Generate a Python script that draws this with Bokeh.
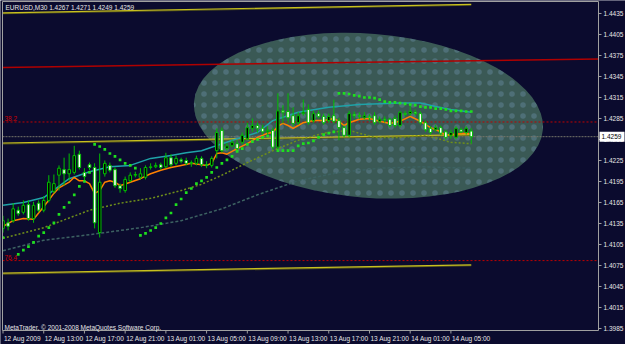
from bokeh.plotting import figure
from bokeh.models import ColumnDataSource, Range1d
from bokeh.embed import file_html
from bokeh.resources import INLINE
from bokeh.core.properties import value

# ---------------- data (EURUSD M30, bar index 0 = 12 Aug 2009 09:00) ----------------
open_ = [1.4128, 1.4136, 1.4139, 1.4154, 1.4151, 1.4162, 1.4142, 1.4164, 1.4154, 1.4168,
         1.4181, 1.4204, 1.4212, 1.4206, 1.4208, 1.4234, 1.4208, 1.4219, 1.4215, 1.4122,
         1.4206, 1.4218, 1.4212, 1.4189, 1.4182, 1.4196, 1.4204, 1.4201, 1.4201, 1.4215,
         1.4216, 1.4219, 1.4216, 1.4229, 1.4221, 1.4226, 1.4225, 1.4221, 1.4221, 1.4228,
         1.4219, 1.4218, 1.4239, 1.4268, 1.4242, 1.4246, 1.4249, 1.4251, 1.4256, 1.4271,
         1.4275, 1.4271, 1.4266, 1.4268, 1.4244, 1.4296, 1.4295, 1.4289, 1.4279, 1.4292,
         1.4298, 1.4282, 1.4292, 1.4288, 1.4282, 1.4289, 1.4282, 1.4272, 1.4261, 1.4291,
         1.4289, 1.4286, 1.4288, 1.4289, 1.4281, 1.4284, 1.4284, 1.4285, 1.4275, 1.4292,
         1.4292, 1.4294, 1.4292, 1.4279, 1.4271, 1.4269, 1.4272, 1.4266, 1.4261, 1.4258,
         1.4269, 1.4265, 1.4267]
high = [1.4146, 1.4142, 1.4164, 1.4159, 1.4168, 1.4168, 1.4166, 1.4168, 1.4174, 1.4204,
        1.4205, 1.4218, 1.4229, 1.4235, 1.4246, 1.4239, 1.4214, 1.4222, 1.4221, 1.4235,
        1.4225, 1.4222, 1.4215, 1.4192, 1.4202, 1.4208, 1.4209, 1.4214, 1.4218, 1.4221,
        1.4222, 1.4222, 1.4236, 1.4234, 1.4232, 1.4229, 1.4229, 1.4225, 1.4232, 1.4231,
        1.4224, 1.4231, 1.4271, 1.4272, 1.4250, 1.4254, 1.4254, 1.4265, 1.4279, 1.4285,
        1.4279, 1.4276, 1.4274, 1.4272, 1.4321, 1.4304, 1.4321, 1.4301, 1.4294, 1.4312,
        1.4305, 1.4296, 1.4296, 1.4292, 1.4292, 1.4312, 1.4286, 1.4275, 1.4296, 1.4295,
        1.4294, 1.4294, 1.4291, 1.4294, 1.4288, 1.4288, 1.4286, 1.4289, 1.4296, 1.4296,
        1.4306, 1.4298, 1.4295, 1.4282, 1.4274, 1.4276, 1.4275, 1.4269, 1.4269, 1.4274,
        1.4272, 1.4274, 1.4271]
low = [1.4122, 1.4125, 1.4136, 1.4146, 1.4148, 1.4139, 1.4136, 1.4151, 1.4151, 1.4165,
       1.4178, 1.4182, 1.4189, 1.4196, 1.4205, 1.4212, 1.4194, 1.4211, 1.4128, 1.4115,
       1.4202, 1.4208, 1.4186, 1.4179, 1.4179, 1.4194, 1.4201, 1.4198, 1.4198, 1.4212,
       1.4214, 1.4212, 1.4214, 1.4216, 1.4218, 1.4221, 1.4218, 1.4216, 1.4218, 1.4216,
       1.4214, 1.4215, 1.4228, 1.4236, 1.4239, 1.4244, 1.4239, 1.4248, 1.4254, 1.4266,
       1.4265, 1.4262, 1.4262, 1.4241, 1.4239, 1.4278, 1.4278, 1.4274, 1.4276, 1.4289,
       1.4276, 1.4279, 1.4285, 1.4276, 1.4279, 1.4278, 1.4254, 1.4258, 1.4258, 1.4285,
       1.4284, 1.4284, 1.4282, 1.4276, 1.4278, 1.4279, 1.4272, 1.4272, 1.4272, 1.4288,
       1.4289, 1.4289, 1.4276, 1.4266, 1.4262, 1.4266, 1.4261, 1.4255, 1.4256, 1.4255,
       1.4264, 1.4262, 1.4249]
close = [1.4139, 1.4131, 1.4156, 1.4149, 1.4161, 1.4142, 1.4161, 1.4154, 1.4168, 1.4194,
         1.4192, 1.4214, 1.4206, 1.4212, 1.4232, 1.4215, 1.4202, 1.4215, 1.4136, 1.4194,
         1.4221, 1.4211, 1.4189, 1.4185, 1.4198, 1.4204, 1.4205, 1.4206, 1.4215, 1.4216,
         1.4218, 1.4215, 1.4229, 1.4219, 1.4228, 1.4224, 1.4221, 1.4222, 1.4228, 1.4219,
         1.4218, 1.4228, 1.4265, 1.4239, 1.4246, 1.4251, 1.4242, 1.4261, 1.4272, 1.4275,
         1.4271, 1.4266, 1.4268, 1.4244, 1.4296, 1.4294, 1.4286, 1.4278, 1.4289, 1.4294,
         1.4279, 1.4292, 1.4288, 1.4279, 1.4288, 1.4281, 1.4272, 1.4261, 1.4292, 1.4289,
         1.4288, 1.4289, 1.4286, 1.4279, 1.4284, 1.4283, 1.4275, 1.4275, 1.4294, 1.4291,
         1.4295, 1.4292, 1.4279, 1.4269, 1.4265, 1.4272, 1.4264, 1.4258, 1.4265, 1.4271,
         1.4266, 1.4271, 1.4259]

# Parabolic SAR dots (bar index, price)
sar_bar = [0, 3, 4, 5, 6, 7, 8, 9, 10, 11, 12, 13, 14, 15, 16, 17,
           18, 19, 20, 21, 22, 23, 24, 25, 26,
           27, 28, 29, 30, 31, 32, 33, 34, 35, 36, 37, 38, 39, 40, 41, 42, 43, 44, 45, 46, 47, 48, 49, 50, 51, 52,
           54, 55, 56, 57, 58, 59, 60, 61, 62, 63, 64, 65,
           66, 67, 68, 69, 70, 71, 72, 73, 74, 75, 76, 77, 78, 79, 80, 81, 82, 83, 84, 85, 86, 87, 88, 89, 90, 91, 92]
sar_val = [1.4115, 1.4091, 1.4097, 1.4102, 1.4108, 1.4117, 1.4122, 1.4129, 1.4136, 1.4148, 1.4158, 1.4165, 1.4176, 1.4188, 1.4195, 1.4208,
           1.4248, 1.4245, 1.4241, 1.4235, 1.4231, 1.4226, 1.4221, 1.4218, 1.4214,
           1.4118, 1.4121, 1.4125, 1.4129, 1.4135, 1.4143, 1.4150, 1.4162, 1.4170, 1.4179, 1.4185, 1.4192, 1.4196, 1.4201, 1.4208, 1.4215, 1.4221, 1.4226, 1.4231, 1.4238, 1.4242, 1.4248, 1.4252, 1.4255, 1.4258, 1.4260,
           1.4239, 1.4239, 1.4239, 1.4239, 1.4246, 1.4249, 1.4250, 1.4253, 1.4258, 1.4262, 1.4264, 1.4266,
           1.4321, 1.4321, 1.4320, 1.4318, 1.4317, 1.4315, 1.4315, 1.4314, 1.4312, 1.4309, 1.4308, 1.4308, 1.4307, 1.4306, 1.4305, 1.4304, 1.4302, 1.4301, 1.4301, 1.4299, 1.4299, 1.4298, 1.4296, 1.4296, 1.4296, 1.4295, 1.4295]

# fast moving average (orange)
ma_fast_bar = [0, 2, 4, 6, 8, 10, 11, 13, 14, 15, 16, 17, 18, 19, 20, 21, 22, 23, 25, 27, 29, 31, 33, 35, 37,
               40, 41, 42, 43, 44, 46, 48, 50, 52, 53, 54, 55, 56, 57, 58, 59, 61, 63, 65, 66, 67, 68, 70,
               72, 74, 76, 78, 80, 82, 84, 86, 87, 89, 91, 92]
ma_fast_val = [1.4131, 1.4139, 1.4142, 1.4141, 1.4159, 1.4178, 1.4186, 1.4194, 1.4201, 1.4196, 1.4196, 1.4192,
               1.4178, 1.4182, 1.4194, 1.4196, 1.4194, 1.4189, 1.4194, 1.4199, 1.4206, 1.4211, 1.4215, 1.4218,
               1.4221, 1.4218, 1.4221, 1.4235, 1.4236, 1.4234, 1.4242, 1.4249, 1.4258, 1.4264, 1.4265, 1.4274,
               1.4278, 1.4275, 1.4271, 1.4275, 1.4279, 1.4282, 1.4282, 1.4285, 1.4281, 1.4275, 1.4279, 1.4284,
               1.4285, 1.4281, 1.4278, 1.4281, 1.4288, 1.4281, 1.4272, 1.4266, 1.4261, 1.4263, 1.4264, 1.4263]

# slow moving average (teal)
ma_slow_bar = [0, 4, 8, 13, 17, 21, 25, 29, 33, 36, 39, 41, 46, 50, 53, 58, 64, 70, 78, 82, 85, 88, 92]
ma_slow_val = [1.4161, 1.4165, 1.4172, 1.4199, 1.4209, 1.4216, 1.4218, 1.4228, 1.4232, 1.4236, 1.4239, 1.4244,
               1.4256, 1.4265, 1.4282, 1.4294, 1.4301, 1.4305, 1.4307, 1.4307, 1.4302, 1.4298, 1.4294]

# lower envelope lines
env1_bar = [0, 8, 17, 23, 29, 35, 39, 43, 48, 53, 58, 63, 68, 73, 78, 83, 88, 92]
env1_val = [1.4114, 1.4129, 1.4154, 1.4164, 1.4171, 1.4182, 1.4191, 1.4204, 1.4222, 1.4239, 1.4254, 1.4264,
            1.4268, 1.4258, 1.4258, 1.4261, 1.4251, 1.4249]
env2_bar = [0, 8, 17, 27, 35, 43, 50, 58, 66, 74, 82, 92]
env2_val = [1.4096, 1.4111, 1.4119, 1.4129, 1.4139, 1.4156, 1.4176, 1.4196, 1.4208, 1.4214, 1.4216, 1.4214]

# regression channel and trend line (bar, price end points)
chan_bars = [0, 92]
chan_upper = [1.4436, 1.4448]
chan_mid = [1.4250, 1.4262]
chan_lower = [1.4064, 1.4076]
trend_red_bars = [0, 117]
trend_red = [1.4358, 1.4370]
fib_levels = [1.4280, 1.4082]
fib_labels = ["38.2", "76.4"]
bid = 1.4259
bid_label = "1.4259"

ellipse_center = (71.8, 1.4289)

x_tick_bars = [0, 8, 16, 24, 32, 40, 48, 56, 64, 72, 80, 88]
x_tick_labels = ["12 Aug 2009", "12 Aug 13:00", "12 Aug 17:00", "12 Aug 21:00", "13 Aug 01:00",
                 "13 Aug 05:00", "13 Aug 09:00", "13 Aug 13:00", "13 Aug 17:00", "13 Aug 21:00",
                 "14 Aug 01:00", "14 Aug 05:00"]
y_ticks = [1.3985, 1.4015, 1.4045, 1.4075, 1.4105, 1.4135, 1.4165, 1.4195, 1.4225,
           1.4255, 1.4285, 1.4315, 1.4345, 1.4375, 1.4405, 1.4435]

# ---------------- layout: the whole canvas is the data frame ----------------
W, H = 625, 344
PX_PER_BAR = 5.09
PX_PER_UNIT = 7000.0
BAR0_PX = 2.5
PRICE_AT_TOP = 1.445357


def bx(px):   # screen x -> bar coordinate
    return (px - BAR0_PX) / PX_PER_BAR


def py(pyy):  # screen y -> price coordinate
    return PRICE_AT_TOP - pyy / PX_PER_UNIT


BG = "#0b0b2e"
FONT = value("Liberation Sans")
FS = "6.5px"
TXT = "#e6e6e6"
GREEN = "#00c000"
FRAME = "#a0a0a0"

p = figure(width=W, height=H, output_backend="svg", toolbar_location=None,
           x_range=Range1d(bx(0), bx(W)), y_range=Range1d(py(H), py(0)),
           x_axis_location=None, y_axis_location=None,
           min_border=0, background_fill_color=BG, border_fill_color=BG)
p.outline_line_color = None
p.xgrid.visible = False
p.ygrid.visible = False

L, R, T, B = bx(2), bx(598), py(1), py(330)

# ellipse
p.ellipse(x=[ellipse_center[0]], y=[ellipse_center[1]], width=350, height=164,
          width_units="screen", height_units="screen", angle=-0.08,
          fill_color="#3a5955", line_color=None,
          hatch_pattern="dot", hatch_color="#7fa3c8", hatch_scale=11, hatch_weight=0.4, hatch_alpha=0.3)

# fib + bid lines
for lv in fib_levels:
    p.line([L, R], [lv, lv], line_color="#c00000", line_dash="2 2", line_width=1)
p.line([L, R], [bid, bid], line_color="#77776a", line_dash="2 1", line_width=1)
p.text(x=[bx(4)] * 2, y=fib_levels, text=fib_labels, text_font=FONT, text_font_size=FS,
       text_color="#d00000", text_baseline="bottom", y_offset=-1)

# red trendline
p.line(trend_red_bars, trend_red, line_color="#b00000", line_width=1.5)
# regression channel
for arr in (chan_upper, chan_mid, chan_lower):
    p.line(chan_bars, [v - 0.00012 for v in arr], line_color="#55551a", line_width=1.2)
    p.line(chan_bars, arr, line_color="#c8c020", line_width=1.2)

# envelopes
p.line(env2_bar, env2_val, line_color="#3d6262", line_width=1.5, line_dash="3 2")
p.line(env1_bar, env1_val, line_color="#6f8f1a", line_width=1.5, line_dash="2 2")

# moving averages
p.line(ma_slow_bar, ma_slow_val, line_color="#1fa3a8", line_width=1.5)
p.line(ma_fast_bar, ma_fast_val, line_color="#ff8000", line_width=1.5)

# candles
bars = list(range(len(close)))
src = ColumnDataSource(dict(
    x=bars, high=high, low=low,
    top=[max(o, c) for o, c in zip(open_, close)],
    bottom=[min(o, c) for o, c in zip(open_, close)],
    fill=["#ffffff" if c < o else "#000000" for o, c in zip(open_, close)],
))
p.segment(x0="x", y0="low", x1="x", y1="high", source=src, line_color=GREEN, line_width=1)
p.vbar(x="x", top="top", bottom="bottom", width=0.5, source=src,
       fill_color="fill", line_color=GREEN, line_width=1)

# SAR
p.scatter(sar_bar, sar_val, marker="square", size=2.7, color="#1ee01e", line_width=0)

# mask outside the chart frame, then the frame
p.quad(left=[bx(0), R, L, L], right=[L, bx(W), R, R], top=[py(0), py(0), py(0), B],
       bottom=[py(H), py(H), T, py(H)], fill_color=BG, line_color=None)
p.quad(left=[L], right=[R], top=[T], bottom=[B], fill_color=None, line_color=FRAME, line_width=1)

# texts inside the frame
p.text(x=[bx(5)], y=[py(6.5)], text=["EURUSD,M30  1.4267 1.4271 1.4249 1.4259"], text_font=FONT,
       text_font_size=FS, text_color=TXT, text_baseline="middle")
p.text(x=[bx(4)], y=[py(326.5)], text=["MetaTrader, © 2001-2008 MetaQuotes Software Corp."], text_font=FONT,
       text_font_size=FS, text_color=TXT, text_baseline="middle")

# right price scale
p.segment(x0=[R] * len(y_ticks), x1=[bx(601)] * len(y_ticks), y0=y_ticks, y1=y_ticks,
          line_color=FRAME, line_width=1)
p.text(x=[bx(603)] * len(y_ticks), y=y_ticks, text=["%.4f" % v for v in y_ticks], text_font=FONT,
       text_font_size=FS, text_color=TXT, text_baseline="middle")

# bottom time scale
p.segment(x0=x_tick_bars, x1=x_tick_bars, y0=[B] * len(x_tick_bars), y1=[py(333)] * len(x_tick_bars),
          line_color=FRAME, line_width=1)
p.text(x=x_tick_bars, y=[py(337.5)] * len(x_tick_bars), text=x_tick_labels, x_offset=1, text_font=FONT,
       text_font_size=FS, text_color=TXT, text_baseline="middle")

# current price box
p.quad(left=[bx(599)], right=[bx(624)], top=[bid + 5 / PX_PER_UNIT], bottom=[bid - 5 / PX_PER_UNIT],
       fill_color="#ffffff", line_color=None)
p.text(x=[bx(601)], y=[bid], text=[bid_label], text_font=FONT, text_font_size=FS,
       text_color="#000000", text_baseline="middle")

open("out.html", "w").write(file_html(p, INLINE))
